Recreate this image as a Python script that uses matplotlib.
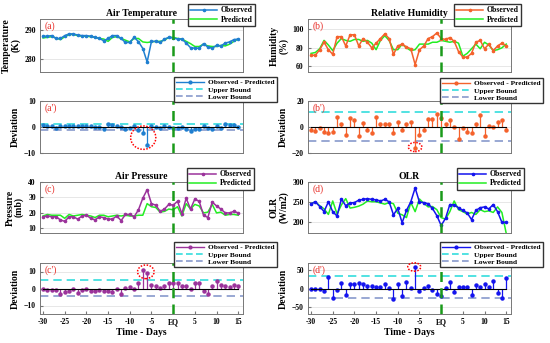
import numpy as np
import matplotlib
matplotlib.use("Agg")
import matplotlib.pyplot as plt
from matplotlib.patches import Ellipse
from matplotlib.lines import Line2D
from matplotlib.legend_handler import HandlerLine2D


days = np.arange(-30, 16)
xtick_vals = [-30, -25, -20, -15, -10, -5, 0, 5, 10, 15]
xtick_labels = ["-30", "-25", "-20", "-15", "-10", "-5", "EQ", "5", "10", "15"]

# Air temperature (K)
obs_temp = [287.8, 287.8, 288.0, 287.0, 287.0, 288.0, 288.6, 288.6, 288.2, 288.0,
            288.0, 287.8, 287.4, 287.0, 286.2, 287.0, 288.0, 288.0, 287.0, 285.6,
            285.6, 287.4, 285.9, 283.5, 278.8, 286.0, 286.0, 285.6, 286.8, 287.4,
            287.2, 286.8, 286.8, 285.4, 283.8, 283.6, 283.6, 285.2, 284.0, 283.6,
            284.6, 284.4, 285.4, 285.8, 286.6, 286.8]
pred_temp = [287.2, 287.4, 287.6, 287.2, 286.6, 287.6, 288.4, 288.4, 288.0, 287.8,
             287.8, 287.6, 287.4, 287.0, 286.8, 286.0, 287.4, 287.6, 287.0, 286.4,
             285.8, 287.0, 287.0, 285.8, 285.6, 285.8, 286.0, 286.0, 286.4, 287.4,
             287.4, 287.0, 286.8, 286.0, 285.2, 284.2, 284.2, 285.0, 284.4, 284.2,
             284.2, 284.6, 284.4, 285.0, 286.0, 286.8]
dev_temp = [0.6, 0.4, 0.4, -0.2, 0.4, 0.4, 0.2, 0.2, 0.2, 0.2,
            0.2, 0.2, 0.0, 0.0, -0.6, 1.0, 0.6, 0.4, 0.0, -0.8,
            -0.2, 0.4, -1.3, -2.3, -6.8, 0.2, 0.0, -0.4, 0.4, 0.0,
            -0.2, -0.2, 0.0, -0.6, -1.4, -0.6, -0.6, 0.2, -0.4, -0.6,
            0.4, -0.2, 1.0, 0.8, 0.6, 0.0]

# Relative humidity (%)
obs_rh = [72, 72, 78, 86, 78, 73, 92, 92, 82, 94, 94, 82, 90, 86, 80, 85, 90, 95, 90, 73,
          82, 84, 81, 79, 62, 78, 82, 90, 92, 96, 90, 89, 91, 87, 76, 70, 70, 74, 86, 88,
          79, 84, 77, 82, 85, 82]
pred_rh = [74, 75, 79, 88, 83, 77, 85, 90, 88, 87, 89, 89, 87, 88, 85, 78, 88, 93, 88, 78,
           78, 84, 80, 77, 78, 84, 84, 84, 86, 86, 88, 87, 86, 87, 85, 71, 74, 79, 84, 79,
           86, 83, 77, 78, 80, 84]
dev_rh = [-2, -3, -1, -4, -5, -4, 8, 2, -6, 7, 5, -7, 3, -2, -5, 8, 2, 2, 2, -5,
          4, -2, 2, 4, -16, -6, -2, 6, 6, 10, 7, 2, 5, 0, -9, -1, -4, -5, 2, 9,
          -7, 1, 0, 4, 5, -2]

# Air pressure (mb)
obs_pres = [17.5, 18, 17.5, 17.5, 15.5, 14.5, 17.5, 17.5, 16, 18,
            18.5, 16.5, 15.5, 17.5, 17, 16, 16, 18, 15, 19,
            19, 17.5, 22, 29.5, 35, 26, 25, 21, 22.5, 25.5,
            25, 27.5, 19.5, 29.5, 22.5, 29, 27.5, 18.5, 17, 27,
            24.5, 22.5, 20, 20, 21, 20]
pred_pres = [18, 19, 18.5, 18.5, 18.5, 16.5, 19, 18, 18.5, 19,
             18.5, 18, 17, 18.5, 18.5, 17.5, 18, 18.5, 18, 18.5,
             18, 18, 18.5, 18.5, 26, 24, 23.5, 20.5, 21, 22.5,
             22, 24, 18, 26, 22.5, 25.5, 24.5, 20, 20.5, 25.5,
             20, 20.5, 18.5, 19, 19, 18.5]
dev_pres = [-0.5, -1, -1, -1, -3, -2, -1.5, -0.5, -2.5, -1,
            0, -1.5, -1.5, -1, -1.5, -1.5, -2, -0.5, -3, 0.5,
            1, -0.5, 3.5, 11, 9, 2, 1.5, 0.5, 1.5, 3,
            3, 3.5, 1.5, 1.5, 0, 3.5, 3, -1.5, -3.5, 1.5,
            4.5, 2, 1.5, 1, 2, 1.5]

# OLR (W/m2)
obs_olr = [245, 250, 238, 225, 250, 225, 214, 257, 240, 247,
           248, 254, 256, 258, 256, 255, 252, 256, 250, 217,
           233, 197, 228, 250, 285, 249, 248, 245, 233, 215,
           190, 208, 243, 242, 235, 228, 222, 205, 228, 235,
           237, 232, 243, 225, 198, 198]
pred_olr = [245, 250, 240, 232, 218, 252, 219, 242, 258, 234,
            236, 239, 244, 252, 250, 250, 247, 244, 248, 245,
            221, 217, 210, 248, 225, 257, 246, 237, 238, 230,
            210, 206, 225, 252, 230, 225, 219, 223, 218, 230,
            225, 227, 223, 237, 223, 170]
dev_olr = [0, 0, -2, -7, 32, -27, -5, 15, -18, 13,
           12, 15, 12, 6, 6, 5, 5, 12, 2, -28,
           12, -20, 18, 2, 60, -8, 2, 8, -5, -15,
           -20, 2, 18, -10, 5, 3, 3, -18, 10, 5,
           12, 5, 20, -12, -25, 28]

# upper / lower bounds of the deviation
bounds_temp = (1.2, -1.1)
bounds_rh = (11.5, -11)
bounds_pres = (4.8, -4.5)
bounds_olr = (33, -27)


plt.rcParams["font.family"] = ["Liberation Serif", "DejaVu Serif"]
plt.rcParams["font.weight"] = "bold"

GREEN = "#22ee22"
EQ_GREEN = "#1a9a1a"
UPPER = "#33dddd"
LOWER = "#8899cc"


class EndMarker(HandlerLine2D):
    # marker at the right end of the legend line, like the stem legend
    def get_xdata(self, legend, xdescent, ydescent, width, height, fontsize):
        xdata = np.array([-xdescent, -xdescent + width])
        return xdata, np.array([-xdescent + width * 0.88])


W = 203 / 550
LEFT = 40 / 550
RIGHT = 308 / 550


def frame(ax, ylim, yticks, bottom=False):
    ax.set_xlim(-30.7, 16.1)
    ax.set_ylim(*ylim)
    ax.set_yticks(yticks)
    ax.grid(axis="y", color="#dddddd", lw=0.5)
    ax.set_axisbelow(True)
    for s in ax.spines.values():
        s.set_color("#777777")
        s.set_linewidth(0.7)
    ax.tick_params(axis="y", labelsize=5.5, length=2, direction="in", pad=3, color="#777777")
    if bottom:
        ax.set_xticks(xtick_vals)
        ax.set_xticklabels(xtick_labels)
        ax.tick_params(axis="x", labelsize=5.5, length=2, direction="in", pad=3, color="#777777")
        ax.set_xlabel("Time - Days", fontsize=7, fontweight="bold", labelpad=1)
    else:
        ax.set_xticks([])
    ax.axvline(0, color=EQ_GREEN, lw=1.8, ls=(0, (4, 2.5)), zorder=5)


def draw_main(pos, obs, pred, color, title, ylabel, tag, ylim, yticks, leg_anchor):
    ax = fig.add_axes(pos)
    frame(ax, ylim, yticks)
    ax.plot(days, obs, color=color, lw=1.1, marker=".", ms=3.2, label="Observed", zorder=3)
    ax.plot(days, pred, color=GREEN, lw=1.1, label="Predicted", zorder=2)
    ax.set_title(title, fontsize=7, fontweight="bold", pad=2)
    ax.set_ylabel(ylabel, fontsize=7, fontweight="bold", labelpad=3, linespacing=1.0)
    ax.text(0.025, 0.96, tag, transform=ax.transAxes, color="#e8302a", fontsize=7,
            fontweight="normal", va="top", ha="left")
    ax.legend(loc="upper right", bbox_to_anchor=leg_anchor, bbox_transform=fig.transFigure,
              fontsize=5.6, frameon=True, fancybox=False, edgecolor="#333333",
              framealpha=1, handlelength=3.4, borderpad=0.3, labelspacing=0.15,
              handletextpad=0.5, borderaxespad=0)
    return ax


def draw_dev(pos, dev, bounds, color, tag, ylim, yticks, leg_anchor, circle, bottom=False):
    ax = fig.add_axes(pos)
    frame(ax, ylim, yticks, bottom)
    ml, sl, bl = ax.stem(days, dev, linefmt="-", markerfmt="o", basefmt="k-")
    sl.set_color(color)
    sl.set_linewidth(0.9)
    ml.set_color(color)
    ml.set_markersize(2.2)
    bl.set_linewidth(0.8)
    bl.set_color("black")
    ax.axhline(bounds[0], color=UPPER, lw=1.2, ls=(0, (5, 3)), zorder=1)
    ax.axhline(bounds[1], color=LOWER, lw=1.2, ls=(0, (5, 3)), zorder=1)
    ax.set_ylabel("Deviation", fontsize=7, fontweight="bold", labelpad=3)
    ax.text(0.025, 0.96, tag, transform=ax.transAxes, color="#e8302a", fontsize=7,
            fontweight="normal", va="top", ha="left")
    cx, cy, cw, ch = circle
    ax.add_patch(Ellipse((cx, cy), cw, ch, fill=False, ec="red", lw=1.1,
                         ls=(0, (1, 1)), zorder=6, clip_on=False))
    handles = [Line2D([0], [0], color=color, lw=1.0, marker="o", ms=2),
               Line2D([0], [0], color=UPPER, lw=1.2, ls=(0, (4, 2))),
               Line2D([0], [0], color=LOWER, lw=1.2, ls=(0, (4, 2)))]
    ax.legend(handles, ["Observed - Predicted", "Upper Bound", "Lower Bound"],
              handler_map={handles[0]: EndMarker()},
              loc="upper right", bbox_to_anchor=leg_anchor, bbox_transform=fig.transFigure,
              fontsize=5.3, frameon=True, fancybox=False, edgecolor="#333333",
              framealpha=1, handlelength=3.8, borderpad=0.3, labelspacing=0.15,
              handletextpad=0.6, borderaxespad=0)
    return ax


fig = plt.figure(figsize=(5.5, 3.43), dpi=100)

row1 = (1 - 72 / 343, 53 / 343)
row2 = (1 - 153 / 343, 52 / 343)
row3 = (1 - 233 / 343, 51 / 343)
row4 = (1 - 314 / 343, 51 / 343)

draw_main([LEFT, row1[0], W, row1[1]], obs_temp, pred_temp, "#1f7fd0",
          "Air Temperature", "Temperature\n(K)", "(a)", (275.3, 293.8), [280, 290],
          (255 / 550, 1 - 4 / 343))
draw_main([RIGHT, row1[0], W, row1[1]], obs_rh, pred_rh, "#f4622c",
          "Relative Humidity", "Humidity\n(%)", "(b)", (54, 111), [60, 80, 100],
          (521 / 550, 1 - 4 / 343))
draw_dev([LEFT, row2[0], W, row2[1]], dev_temp, bounds_temp, "#1f7fd0", "(a')",
         (-10, 10), [-10, 0, 10], (277 / 550, 1 - 77 / 343), (-6.9, -4.1, 5.8, 9))
draw_dev([RIGHT, row2[0], W, row2[1]], dev_rh, bounds_rh, "#f4622c", "(b')",
         (-20, 20), [-20, 0, 20], (543 / 550, 1 - 78 / 343), (-6.0, -15.4, 3.1, 7))
draw_main([LEFT, row3[0], W, row3[1]], obs_pres, pred_pres, "#9b339b",
          "Air Pressure", "Pressure\n(mb)", "(c)", (7, 40), [10, 20, 30, 40],
          (254 / 550, 1 - 168 / 343))
draw_main([RIGHT, row3[0], W, row3[1]], obs_olr, pred_olr, "#1414ee",
          "OLR", "OLR\n(W/m2)", "(d)", (171, 300), [200, 250, 300],
          (524 / 550, 1 - 168 / 343))
draw_dev([LEFT, row4[0], W, row4[1]], dev_pres, bounds_pres, "#9b339b", "(c')",
         (-15, 15), [-10, 0, 10], (277 / 550, 1 - 242 / 343), (-6.3, 9.8, 3.8, 8),
         bottom=True)
draw_dev([RIGHT, row4[0], W, row4[1]], dev_olr, bounds_olr, "#1414ee", "(d')",
         (-70, 70), [-50, 0, 50], (543 / 550, 1 - 242 / 343), (-6.2, 59, 3.0, 23),
         bottom=True)

fig.savefig("out.png", dpi=100)
